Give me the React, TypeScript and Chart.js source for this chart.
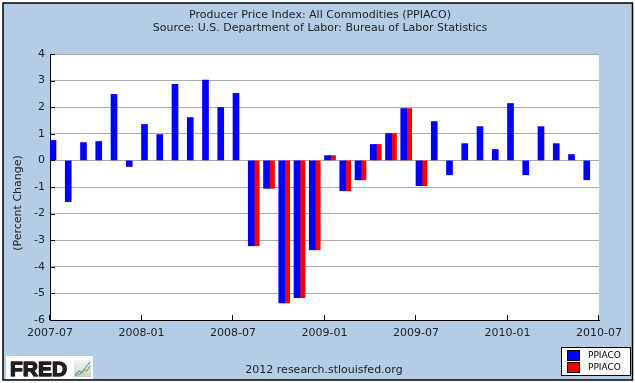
import { useEffect, useRef } from "react";
import { Chart, registerables } from "chart.js";

Chart.register(...registerables);

const titleLines = [
  "Producer Price Index: All Commodities (PPIACO)",
  "Source: U.S. Department of Labor: Bureau of Labor Statistics",
];
const yAxisTitle = "(Percent Change)";
const footerText = "2012 research.stlouisfed.org";
const seriesName = "PPIACO";

const months = [
  "2007-07", "2007-08", "2007-09", "2007-10", "2007-11", "2007-12",
  "2008-01", "2008-02", "2008-03", "2008-04", "2008-05", "2008-06",
  "2008-07", "2008-08", "2008-09", "2008-10", "2008-11", "2008-12",
  "2009-01", "2009-02", "2009-03", "2009-04", "2009-05", "2009-06",
  "2009-07", "2009-08", "2009-09", "2009-10", "2009-11", "2009-12",
  "2010-01", "2010-02", "2010-03", "2010-04", "2010-05", "2010-06",
];
const tickLabels = ["2007-07", "2008-01", "2008-07", "2009-01", "2009-07", "2010-01", "2010-07"];

const blueValues = [
  0.75, -1.55, 0.67, 0.71, 2.48, -0.23,
  1.35, 0.97, 2.86, 1.61, 3.02, 1.99,
  2.52, -3.21, -1.05, -5.36, -5.16, -3.36,
  0.18, -1.14, -0.73, 0.6, 1.01, 1.95,
  -0.95, 1.46, -0.54, 0.63, 1.27, 0.41,
  2.14, -0.54, 1.27, 0.63, 0.22, -0.73,
];

const redMonths = [
  "2008-08", "2008-09", "2008-10", "2008-11", "2008-12", "2009-01",
  "2009-02", "2009-03", "2009-04", "2009-05", "2009-06", "2009-07",
];
const redValues = [-3.21, -1.05, -5.36, -5.16, -3.36, 0.18, -1.14, -0.73, 0.6, 1.01, 1.95, -0.95];

const BG = "#B4CDE4";
const BLUE = "#0000FF";
const RED = "#FF0000";
const FONT = "'DejaVu Sans', Verdana, sans-serif";

// layout constants (px)
const W = 635;
const H = 383;
const PLOT_LEFT = 50;
const PLOT_TOP = 54;
const PLOT_RIGHT = 599;
const PLOT_BOTTOM = 320;
const BAR_PX = 6;
const PX_PER_MONTH = (PLOT_RIGHT - PLOT_LEFT) / months.length;
const blueShift = BAR_PX / 2 / PX_PER_MONTH;
const redShift = (BAR_PX - 1 + BAR_PX / 2) / PX_PER_MONTH;

const decorPlugin = {
  id: "decor",
  beforeDraw(chart: any) {
    const ctx = chart.ctx;
    ctx.save();
    ctx.fillStyle = "#FFFFFF";
    ctx.fillRect(0, 0, W, H);
    ctx.fillStyle = BG;
    ctx.fillRect(3, 3, W - 5, H - 6);
    ctx.strokeStyle = "#000";
    ctx.lineWidth = 1.5;
    ctx.strokeRect(3, 3, W - 5.5, H - 6);
    const a = chart.chartArea;
    ctx.fillStyle = "#FFFFFF";
    ctx.fillRect(a.left, a.top, a.right - a.left, a.bottom - a.top);

    // titles
    ctx.fillStyle = "#222";
    ctx.font = `11px ${FONT}`;
    ctx.textAlign = "center";
    ctx.textBaseline = "middle";
    ctx.fillText(titleLines[0], 320, 15);
    ctx.fillText(titleLines[1], 320, 28);

    // y title
    ctx.save();
    ctx.translate(18, 203);
    ctx.rotate(-Math.PI / 2);
    ctx.fillText(yAxisTitle, 0, 0);
    ctx.restore();

    // footer
    ctx.fillText(footerText, 324, 370);
    ctx.restore();
  },
  afterDatasetsDraw(chart: any) {
    const ctx = chart.ctx;
    const xs = chart.scales.x;
    const ys = chart.scales.y;
    ctx.save();
    ctx.strokeStyle = "#000";
    ctx.lineWidth = 1;
    ctx.beginPath();
    xs.ticks.forEach((t: any) => {
      const px = Math.round(xs.getPixelForValue(t.value)) - 0.5;
      ctx.moveTo(px, ys.bottom);
      ctx.lineTo(px, ys.bottom - 5);
    });
    ys.ticks.forEach((t: any) => {
      const py = Math.round(ys.getPixelForValue(t.value)) + 0.5;
      ctx.moveTo(xs.left, py);
      ctx.lineTo(xs.left + 5, py);
    });
    ctx.stroke();

    // legend
    const lx = 561, ly = 347, lw = 70, lh = 29;
    ctx.fillStyle = "#FFF";
    ctx.fillRect(lx, ly, lw, lh);
    ctx.strokeStyle = "#000";
    ctx.strokeRect(lx + 0.5, ly + 0.5, lw - 1, lh - 1);
    const items = [
      { color: BLUE, label: seriesName },
      { color: RED, label: seriesName },
    ];
    items.forEach((it, i) => {
      const y0 = ly + 3 + i * 12;
      ctx.fillStyle = it.color;
      ctx.fillRect(lx + 6, y0, 13, 11);
      ctx.strokeStyle = "#000";
      ctx.strokeRect(lx + 6.5, y0 + 0.5, 12, 10);
      ctx.fillStyle = "#000";
      ctx.font = `9px ${FONT}`;
      ctx.textAlign = "left";
      ctx.textBaseline = "middle";
      ctx.fillText(it.label, lx + 27, y0 + 6);
    });

    // FRED logo
    ctx.fillStyle = "#FFF";
    ctx.fillRect(6, 356, 87, 23);
    ctx.fillStyle = "#231F20";
    ctx.strokeStyle = "#231F20";
    ctx.lineWidth = 1.4;
    ctx.lineJoin = "round";
    ctx.font = `bold 21px 'Liberation Sans', Arial, sans-serif`;
    ctx.textAlign = "left";
    ctx.textBaseline = "alphabetic";
    ctx.fillText("FRED", 10, 376);
    ctx.strokeText("FRED", 10, 376);
    const g = ctx.createLinearGradient(74, 360, 74, 377);
    g.addColorStop(0, "#f4f4f4");
    g.addColorStop(1, "#cfcfcf");
    ctx.fillStyle = g;
    ctx.fillRect(74, 360, 17, 17);
    ctx.lineWidth = 1.2;
    ctx.strokeStyle = "#5a9bd5";
    ctx.beginPath();
    ctx.moveTo(75, 375); ctx.lineTo(79, 371); ctx.lineTo(82, 373); ctx.lineTo(86, 367); ctx.lineTo(90, 362);
    ctx.stroke();
    ctx.strokeStyle = "#7cb342";
    ctx.beginPath();
    ctx.moveTo(75, 376); ctx.lineTo(80, 374); ctx.lineTo(84, 370); ctx.lineTo(87, 371); ctx.lineTo(90, 366);
    ctx.stroke();
    ctx.restore();
  },
};

export default function App() {
  const ref = useRef<HTMLCanvasElement | null>(null);
  useEffect(() => {
    if (!ref.current) return;
    const blueData = blueValues.map((v, i) => ({ x: i + blueShift, y: v }));
    const redData = redValues.map((v, i) => ({ x: months.indexOf(redMonths[i]) + redShift, y: v }));
    const chart = new Chart(ref.current, {
      type: "bar",
      data: {
        datasets: [
          { label: seriesName, data: blueData, backgroundColor: BLUE, barThickness: BAR_PX, grouped: false, borderWidth: 0 } as any,
          { label: seriesName, data: redData, backgroundColor: RED, barThickness: BAR_PX, grouped: false, borderWidth: 0 } as any,
        ],
      },
      options: {
        animation: false,
        responsive: false,
        maintainAspectRatio: false,
        layout: { padding: { left: 0, top: PLOT_TOP, right: W - PLOT_RIGHT, bottom: 0 } },
        plugins: {
          legend: { display: false },
          title: { display: false },
          tooltip: { enabled: false },
        },
        scales: {
          x: {
            type: "linear",
            min: 0,
            max: months.length,
            offset: false,
            afterFit: (s: any) => { s.height = H - PLOT_BOTTOM; },
            grid: { display: false, drawTicks: false, offset: false },
            border: { display: true, color: "#000", width: 1 },
            ticks: {
              stepSize: 6,
              autoSkip: false,
              maxRotation: 0,
              padding: 7,
              color: "#222",
              font: { family: FONT, size: 11 },
              callback: (v: any) => tickLabels[Math.round(Number(v) / 6)] ?? "",
            },
          },
          y: {
            min: -6,
            max: 4,
            afterFit: (s: any) => { s.width = PLOT_LEFT; },
            grid: { color: "#AAAAAA", drawTicks: false },
            border: { display: true, color: "#000", width: 1 },
            ticks: {
              stepSize: 1,
              padding: 5,
              color: "#222",
              font: { family: FONT, size: 11 },
            },
          },
        },
      } as any,
      plugins: [decorPlugin],
    });
    return () => chart.destroy();
  }, []);
  return (
    <div style={{ position: "absolute", left: 0, top: 0, width: W, height: H }}>
      <canvas ref={ref} width={W} height={H} style={{ width: W, height: H, display: "block" }} />
    </div>
  );
}
